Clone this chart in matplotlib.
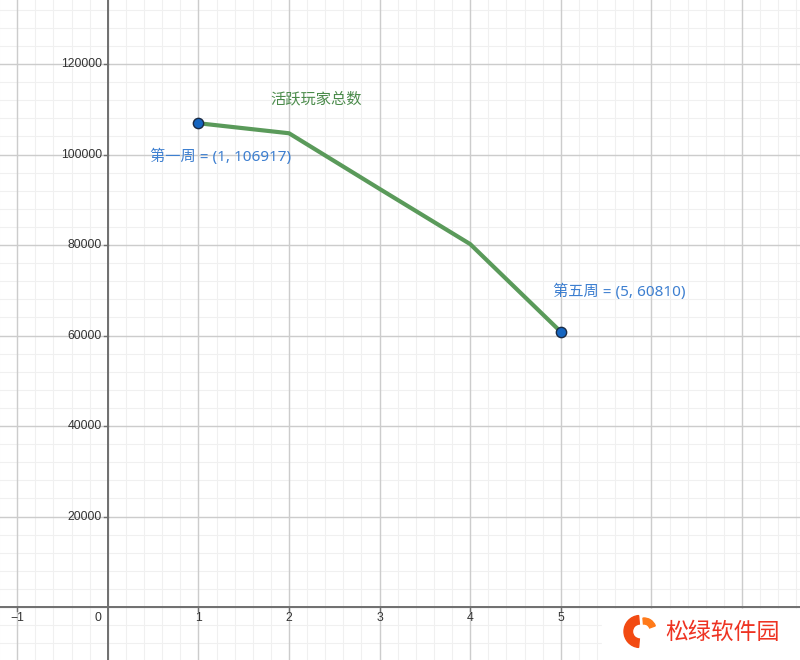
import numpy as np
import matplotlib.pyplot as plt
from matplotlib.patches import Wedge

plt.rcParams['font.family'] = ['Noto Sans', 'Noto Sans CJK SC', 'DejaVu Sans']

# 活跃玩家总数 (per week)
weeks = [1, 2, 3, 4, 5]
players = [106917, 104700, 92400, 80200, 60810]
series_name = '活跃玩家总数'
point_names = ['第一周', '第五周']
point_idx = [0, 4]

# labels 6 and 7 sit under the watermark in the original
x_ticks = [-1, 1, 2, 3, 4, 5]
y_ticks = [20000, 40000, 60000, 80000, 100000, 120000]

fig = plt.figure(figsize=(8, 6.6), dpi=100)
ax = fig.add_axes([0, 0, 1, 1])
ax.set_xlim(-1.19, 7.64)
ax.set_ylim(-11710, 134150)
for s in ax.spines.values():
    s.set_visible(False)
ax.set_xticks([])
ax.set_yticks([])

# grid: minor then major
for xv in np.arange(-1.2, 7.8, 0.2):
    ax.axvline(xv, color='#f0f0f0', lw=0.8, zorder=0)
for yv in np.arange(-12000, 136000, 4000):
    ax.axhline(yv, color='#f0f0f0', lw=0.8, zorder=0)
for xv in range(-1, 8):
    ax.axvline(xv, color='#cccccc', lw=1.0, zorder=1)
for yv in range(-20000, 140001, 20000):
    ax.axhline(yv, color='#cccccc', lw=1.0, zorder=1)

dx = 8.83 / 800   # data units per pixel
dy = 145860 / 660

tick_font = dict(fontsize=8.8, color='#333333', family='Liberation Sans')
for t in x_ticks:
    ax.plot([t, t], [0, -4 * dy], color='#6f6f6f', lw=1, zorder=2)
    lbl = str(t).replace('-', '\u2212')
    ax.text(t, -11 * dy, lbl, ha='center', va='center', zorder=2, **tick_font)
ax.text(-10 * dx, -11 * dy, '0', ha='center', va='center', zorder=2, **tick_font)
for t in y_ticks:
    ax.plot([-4 * dx, 0], [t, t], color='#6f6f6f', lw=1, zorder=2)
    ax.text(-6 * dx, t, str(t), ha='right', va='center', zorder=2, **tick_font)

# series
ax.plot(weeks, players, color='#5a9a5a', lw=3, solid_capstyle='round', zorder=3)
ax.scatter([weeks[i] for i in point_idx], [players[i] for i in point_idx],
           s=55, color='#1565c0', edgecolor='#1a2a44', lw=1, zorder=4)
ax.text(2.3, 112000, series_name, ha='center', va='center', fontsize=11, color='#4b8b4b')

ax.text(weeks[0] - 0.536, players[0] - 7500,
        f'{point_names[0]} = ({weeks[0]}, {players[0]})',
        ha='left', va='center', fontsize=11, color='#3d7fd0')
ax.text(weeks[4] - 0.09, players[4] + 8900,
        f'{point_names[1]} = ({weeks[4]}, {players[4]})',
        ha='left', va='center', fontsize=11, color='#3d7fd0')

# watermark box (covers the bottom right corner)
ax.add_patch(plt.Rectangle((5.45, -11710), 2.3, 51.5 * dy, color='white', zorder=5))
# axes drawn over the box
ax.axhline(0, color='#6f6f6f', lw=1.4, zorder=6)
ax.axvline(0, color='#6f6f6f', lw=1.4, zorder=6)

logo = Wedge((6.40, 0.285), 0.16, 95, 265, width=0.085, color='#f24a12',
             transform=fig.dpi_scale_trans, zorder=7)
ax.add_patch(logo)
logo2 = Wedge((6.44, 0.30), 0.12, 20, 95, width=0.06, color='#ff7a1a',
              transform=fig.dpi_scale_trans, zorder=7)
ax.add_patch(logo2)
ax.text(6.65, 0.28, '松绿软件园', ha='left', va='center', fontsize=16.5,
        color='#ee3322', zorder=7, family='Noto Sans CJK SC',
        transform=fig.dpi_scale_trans)

fig.savefig('out.png', dpi=100)
